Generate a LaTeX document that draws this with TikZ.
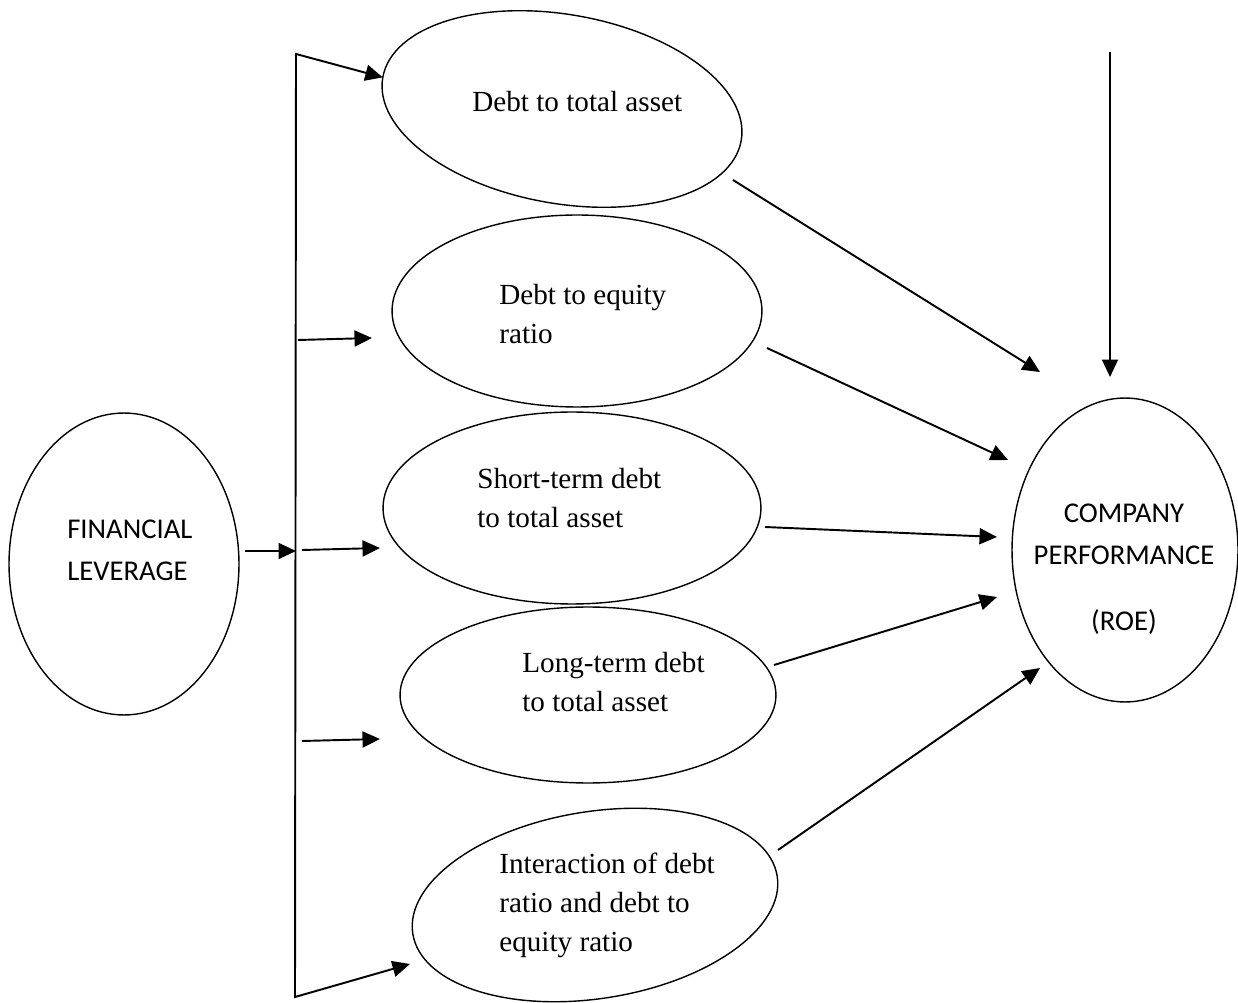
\documentclass[tikz,border=0pt]{standalone}
\usepackage{fontspec}
\setmainfont{Liberation Serif}
\setsansfont{Carlito}
\usetikzlibrary{shapes.geometric,arrows.meta}

\begin{document}
\begin{tikzpicture}[x=0.02cm, y=-0.02cm, >={Triangle[length=3.5mm,width=3.2mm]},
    measure/.style={draw, ellipse, line width=0.8pt, inner sep=0pt, outer sep=0pt},
    mtext/.style={inner sep=0pt, anchor=north west, align=left, font=\fontsize{16.6}{22}\selectfont},
    bigtext/.style={inner sep=0pt, anchor=north, font=\sffamily\fontsize{16.3}{23.5}\selectfont},
    link/.style={->, line width=1.1pt}]
    \useasboundingbox (0,0) rectangle (1238,1003);

    % Independent variable and outcome
    \node[measure, minimum width=4.6cm, minimum height=6.04cm] (fl) at (124,564) {};
    \node[bigtext, anchor=north west, align=left] (flt) at (67,520) {FINANCIAL\\LEVERAGE};
    \node[measure, minimum width=4.52cm, minimum height=6.08cm] (roe) at (1125,550) {};
    \node[bigtext, align=center] (roet) at (1124,504) {COMPANY\\PERFORMANCE\\[14pt](ROE)};

    % Leverage ratios
    \node[measure, minimum width=7.28cm, minimum height=3.78cm, rotate=-10] (e1) at (562,109) {};
    \node[mtext] (t1) at (472,91) {Debt to total asset};
    \node[measure, minimum width=7.4cm, minimum height=3.84cm] (e2) at (577,311) {};
    \node[mtext] (t2) at (499,284) {Debt to equity\\ratio};
    \node[measure, minimum width=7.56cm, minimum height=3.84cm] (e3) at (572,508) {};
    \node[mtext] (t3) at (477,468) {Short-term debt\\to total asset};
    \node[measure, minimum width=7.52cm, minimum height=3.52cm] (e4) at (588,695) {};
    \node[mtext] (t4) at (522,652) {Long-term debt\\to total asset};
    \node[measure, minimum width=7.38cm, minimum height=3.74cm, rotate=9] (e5) at (595,905) {};
    \node[mtext] (t5) at (499,853) {Interaction of debt\\ratio and debt to\\equity ratio};

    % Bracket from financial leverage
    \coordinate (top) at (296,54);
    \coordinate (bot) at (295,997);
    \coordinate (fo) at (245,551);
    \coordinate (j2) at (298,340);
    \coordinate (h2) at (372,338);
    \coordinate (j3) at (302,550);
    \coordinate (h3) at (380,548);
    \coordinate (j4) at (302,741);
    \coordinate (h4) at (380,739);
    \coordinate (h5) at (410,964);
    \draw[link, <->] (e1.west) -- (top) -- (bot) -- (h5);
    \draw[link] (fo) -- (fo -| top);
    \draw[link] (j2) -- (h2);
    \draw[link] (j3) -- (h3);
    \draw[link] (j4) -- (h4);

    % Paths to performance
    \coordinate (o1) at (733,180);
    \coordinate (r1) at (1040,372);
    \coordinate (o2) at (767,348);
    \coordinate (r2) at (1008,460);
    \coordinate (o3) at (765,527);
    \coordinate (r3) at (997,537);
    \coordinate (o4) at (774,665);
    \coordinate (r4) at (997,597);
    \coordinate (o5) at (778,850);
    \coordinate (r5) at (1040,668);
    \coordinate (o6) at (1110,52);
    \coordinate (r6) at (1110,377);
    \draw[link] (o1) -- (r1);
    \draw[link] (o2) -- (r2);
    \draw[link] (o3) -- (r3);
    \draw[link] (o4) -- (r4);
    \draw[link] (o5) -- (r5);
    \draw[link] (o6) -- (r6);
\end{tikzpicture}
\end{document}
